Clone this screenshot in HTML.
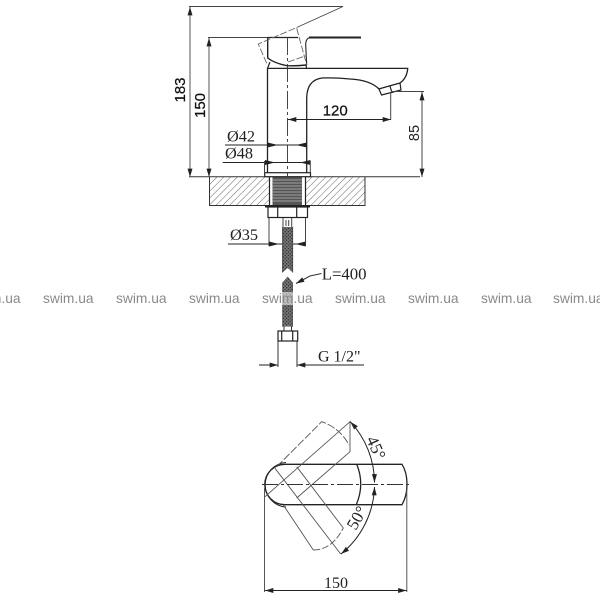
<!DOCTYPE html>
<html><head><meta charset="utf-8"><style>
html,body{margin:0;padding:0;background:#fff;width:600px;height:600px;overflow:hidden}
svg{display:block}
.s{font-family:"Liberation Sans",sans-serif}
.t{font-family:"Liberation Serif",serif}
</style></head><body>
<svg width="600" height="600" viewBox="0 0 600 600" xmlns="http://www.w3.org/2000/svg">
<defs>
<pattern id="h" width="4.800" height="4.800" patternUnits="userSpaceOnUse" patternTransform="rotate(45)">
<line x1="0" y1="0" x2="0" y2="4.800" stroke="#666" stroke-width="1"/>
</pattern>
<pattern id="b" width="2.400" height="2.400" patternUnits="userSpaceOnUse" patternTransform="rotate(45)">
<rect width="2.400" height="2.400" fill="#777"/><rect width="1.200" height="1.200" fill="#222"/>
</pattern>
<marker id="a" viewBox="0 0 10 6" refX="10" refY="3" markerWidth="10" markerHeight="5" orient="auto-start-reverse" markerUnits="userSpaceOnUse"><path d="M0 0L10 3L0 6z" fill="#222"/></marker>
</defs>

<!-- counter slab -->
<rect x="209.500" y="177" width="60" height="28.500" fill="url(#h)"/>
<rect x="306" y="177" width="59" height="28.500" fill="url(#h)"/>
<path d="M209.500 177V205.500H365V177" fill="none" stroke="#333" stroke-width="1"/>
<line x1="189" y1="176.700" x2="420" y2="176.700" stroke="#333" stroke-width="1"/>
<!-- threaded shank -->
<rect x="269" y="176" width="37" height="30" fill="#fff"/>
<rect x="272.500" y="177" width="29.500" height="28.500" fill="#555"/>
<g stroke="#bbb" stroke-width="0.800"><line x1="272" y1="180" x2="302" y2="180"/><line x1="272" y1="183" x2="302" y2="183"/><line x1="272" y1="186" x2="302" y2="186"/><line x1="272" y1="189" x2="302" y2="189"/><line x1="272" y1="192" x2="302" y2="192"/><line x1="272" y1="195" x2="302" y2="195"/><line x1="272" y1="198" x2="302" y2="198"/><line x1="272" y1="201" x2="302" y2="201"/></g>
<path d="M269.500 177V205M305.500 177V205" stroke="#222" stroke-width="1.200"/>

<!-- nut -->
<rect x="265" y="205" width="45" height="2.500" fill="#222"/>
<rect x="268" y="207" width="39.500" height="10.500" fill="#fff" stroke="#222" stroke-width="1.200"/>
<path d="M277.700 207V217.500M296.700 207V217.500" stroke="#222" stroke-width="1.200"/>
<!-- hose stub -->
<path d="M283 218V227M291.700 218V227M286 220V226M288.700 220V226" stroke="#444" stroke-width="1"/>

<!-- hose -->
<path d="M282.500 227H292.700V272.500L287.700 268L282.500 272.500Z" fill="url(#b)"/>
<path d="M282.500 227V272.500M292.700 227V272.500" stroke="#444" stroke-width="0.800"/>
<path d="M282.500 283L287.700 277L292.700 283V326.500H282.500Z" fill="url(#b)" stroke="#555" stroke-width="0.600"/>
<path d="M284 326.500V331H291.500V326.500" fill="#fff" stroke="#333" stroke-width="1"/>
<rect x="278" y="331" width="19.700" height="10" fill="#fff" stroke="#222" stroke-width="1.200"/>
<path d="M281.700 331V341M292.700 331V341" stroke="#222" stroke-width="1.200"/>
<path d="M278 341V367M297 341V367" stroke="#333" stroke-width="1"/>
<line x1="259" y1="365" x2="278" y2="365" stroke="#222" marker-end="url(#a)"/>
<line x1="297" y1="365" x2="364" y2="365" stroke="#222" marker-start="url(#a)"/>
<text class="t" x="318" y="361.500" font-size="16" fill="#222">G 1/2"</text>
<path d="M296 283.500L310 276L321.500 273.500" fill="none" stroke="#333" stroke-width="1" marker-start="url(#a)"/>
<text class="t" x="321.700" y="279.500" font-size="16.800" fill="#222">L=400</text>

<!-- faucet body -->
<path d="M267.500 172.500V68.400H407.700Q407 78 400 83L379 89Q370 80 350 79Q335 77.500 322 78Q307 80 306.700 98V172.500" fill="#fff" stroke="#222" stroke-width="1.300"/>
<rect x="264.700" y="172.700" width="45.800" height="4" fill="#fff" stroke="#222" stroke-width="1.200"/>
<path d="M379 89L400 83L401 90L381.500 95Z" fill="#fff" stroke="#222" stroke-width="1.200"/>
<line x1="390" y1="86" x2="392" y2="93" stroke="#222" stroke-width="1.200"/>
<path d="M267.500 68.400L270 62M306.300 68.400V64" stroke="#222" stroke-width="1.200" fill="none"/>

<!-- handle -->
<path d="M208 37.500H298" stroke="#444" stroke-width="0.900"/>
<path d="M267.700 37.500V58Q274 63 286.700 65.700Q296 66 306.500 65" fill="none" stroke="#222" stroke-width="1.400"/>
<path d="M267.700 37.500H298" stroke="#222" stroke-width="1.200"/>
<path d="M306.700 65L305.700 45Q305.700 37.500 311 37.500" fill="none" stroke="#222" stroke-width="1.100"/>
<line x1="309" y1="37.500" x2="361" y2="37.500" stroke="#222" stroke-width="2"/>
<path d="M266.700 63.300L258.300 44L296.700 27.500M296.700 28.300L306.700 65M288 62L306.500 55.500" fill="none" stroke="#666" stroke-width="0.900" stroke-dasharray="7 2"/>
<path d="M189 6.500H343L296.700 27.500" fill="none" stroke="#444" stroke-width="0.900"/>

<!-- center line -->
<line x1="287.500" y1="37" x2="287.500" y2="176" stroke="#333" stroke-width="0.900" stroke-dasharray="18 3 3 3"/>

<!-- dim 183, 150 -->
<line x1="190" y1="7" x2="190" y2="177" stroke="#555" marker-start="url(#a)" marker-end="url(#a)"/>
<line x1="209" y1="38" x2="209" y2="177" stroke="#555" marker-start="url(#a)" marker-end="url(#a)"/>
<text class="s" transform="translate(185,90) rotate(-90)" font-size="15" fill="#111" stroke="#111" stroke-width=".25" text-anchor="middle">183</text>
<text class="s" transform="translate(205,105.500) rotate(-90)" font-size="15" fill="#111" stroke="#111" stroke-width=".25" text-anchor="middle">150</text>

<!-- dim 120 -->
<line x1="288" y1="119.500" x2="391" y2="119.500" stroke="#222" marker-start="url(#a)" marker-end="url(#a)"/>
<line x1="390.700" y1="92" x2="390.700" y2="120" stroke="#444"/>
<text class="s" x="322.700" y="115.700" font-size="15" fill="#111" stroke="#111" stroke-width=".25">120</text>

<!-- dim 85 -->
<line x1="391" y1="91.500" x2="424" y2="91.500" stroke="#444"/>
<line x1="422" y1="92" x2="422" y2="177" stroke="#444" marker-start="url(#a)" marker-end="url(#a)"/>
<text class="s" transform="translate(419,133) rotate(-90)" font-size="14.500" fill="#222" text-anchor="middle">85</text>

<!-- dia 42, 48 -->
<line x1="225" y1="145" x2="307" y2="145" stroke="#222"/>
<path d="M278 145L267.500 142.500V147.500ZM296 145L306.700 142.500V147.500Z" fill="#222"/>
<text class="t" x="227" y="141.700" font-size="16.300" fill="#222">Ø42</text>
<line x1="222.700" y1="162.500" x2="310" y2="162.500" stroke="#222"/>
<path d="M275 162.500L265 160V165ZM300 162.500L310.500 160V165Z" fill="#222"/>
<path d="M264.500 161V172M310.300 161V172" stroke="#444"/>
<text class="t" x="225" y="158.500" font-size="16.300" fill="#222">Ø48</text>

<!-- dia 35 -->
<path d="M269 218V246M305.500 218V246" stroke="#444"/>
<line x1="228" y1="244" x2="282" y2="244" stroke="#222"/>
<line x1="293" y1="244" x2="305.500" y2="244" stroke="#222"/>
<path d="M279 244L269 241.500V246.500ZM295.500 244L305.500 241.500V246.500Z" fill="#222"/>
<text class="t" x="230" y="240" font-size="16.300" fill="#222">Ø35</text>

<!-- top view -->
<g fill="none">
<path d="M285 464.300H402Q407 472 407 484.300Q407 496 402 504.700H285A20.200 20.200 0 0 1 285 464.300Z" stroke="#222" stroke-width="1.300"/>
<path d="M286 462.500A22.300 22.300 0 0 0 286 507" stroke="#222" stroke-width="1"/>
<path d="M356.700 464.300Q365 484.300 356.300 504.700" stroke="#222" stroke-width="1.300"/>
<g stroke="#555" stroke-width="0.900">
<path d="M276.700 466.700L321.700 421.700Q340 428 349 445" stroke-dasharray="8 2"/>
<path d="M265 496.700L350 421.700V451.700L296.700 498"/>
<path d="M275 468.300L340.700 554"/>
<path d="M296.700 466.700L343.300 528"/>
<path d="M283.300 505L313.300 550"/>
<path d="M313.300 550Q332 550 343.300 528" stroke-dasharray="7 2"/>
</g>
<line x1="262" y1="484.500" x2="412" y2="484.500" stroke="#333" stroke-width="0.900" stroke-dasharray="16 3 3 3"/>
<path d="M350.300 421.700A90 90 0 0 1 374.500 482.500" stroke="#222" stroke-width="1" marker-start="url(#a)" marker-end="url(#a)"/>
<path d="M374.500 487A90 90 0 0 1 341 554" stroke="#222" stroke-width="1" marker-start="url(#a)" marker-end="url(#a)"/>
<path d="M264.500 488V592M406.800 490V592" stroke="#555" stroke-width="1"/>
<line x1="265" y1="590.500" x2="406.500" y2="590.500" stroke="#222" marker-start="url(#a)" marker-end="url(#a)"/>
</g>
<text class="t" x="324" y="588" font-size="16" fill="#222">150</text>
<text class="t" transform="translate(366,439.400) rotate(65)" font-size="17" fill="#222">45°</text>
<text class="t" transform="translate(355.800,531) rotate(-60)" font-size="17" fill="#222">50°</text>

<!-- watermark -->
<rect x="281" y="292" width="13" height="13" fill="#fff" opacity=".55"/>
<g class="s" font-size="13.800" fill="#8a8a8a">
<text x="-30" y="303">swim.ua</text><text x="43" y="303">swim.ua</text><text x="116" y="303">swim.ua</text><text x="189" y="303">swim.ua</text><text x="262" y="303">swim.ua</text><text x="335" y="303">swim.ua</text><text x="408" y="303">swim.ua</text><text x="481" y="303">swim.ua</text><text x="553" y="303">swim.ua</text>
</g>
</svg>
</body></html>
